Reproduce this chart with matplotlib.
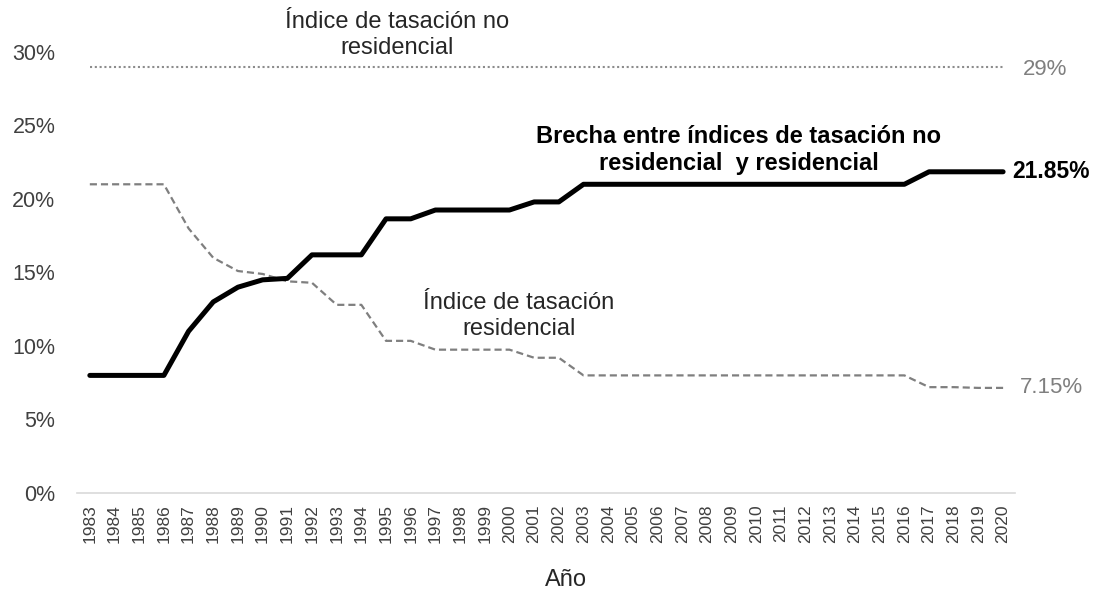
import matplotlib.pyplot as plt
from matplotlib.ticker import FuncFormatter

# datos
anios = list(range(1983, 2021))
brecha = [8, 8, 8, 8, 11, 13, 14, 14.5, 14.6, 16.2, 16.2, 16.2, 18.65, 18.65,
          19.25, 19.25, 19.25, 19.25, 19.8, 19.8] + [21] * 14 + [21.85] * 4
residencial = [21, 21, 21, 21, 18, 16, 15.1, 14.9, 14.4, 14.3, 12.8, 12.8, 10.35, 10.35,
               9.75, 9.75, 9.75, 9.75, 9.2, 9.2] + [8] * 14 + [7.2, 7.2, 7.15, 7.15]
no_residencial = [29] * len(anios)

plt.rcParams['font.family'] = ['Liberation Sans', 'DejaVu Sans']

fig = plt.figure(figsize=(10.96, 5.90), dpi=100)
ax = fig.add_axes([0.0707, 0.1644, 0.8558, 0.7475])

x = list(range(len(anios)))
ax.plot(x, no_residencial, color='#8c8c8c', linewidth=1.5, linestyle=(0, (1, 1.3)))
ax.plot(x, residencial, color='#7f7f7f', linewidth=1.6, linestyle=(0, (3.2, 1.8)))
ax.plot(x, brecha, color='black', linewidth=3.6, solid_joinstyle='round',
        solid_capstyle='round')

ax.set_xlim(-0.5, len(anios) - 0.5)
ax.set_ylim(0, 30)
ax.set_xticks(x)
ax.set_xticklabels([str(a) for a in anios], rotation=90, fontsize=12.5, color='#404040')
ax.set_yticks([0, 5, 10, 15, 20, 25, 30])
ax.yaxis.set_major_formatter(FuncFormatter(lambda v, p: f"{v:.0f}%"))
ax.tick_params(axis='y', length=0, labelsize=15.5, labelcolor='#404040', pad=16)
ax.tick_params(axis='x', length=0, pad=8)

for s in ['top', 'right', 'left']:
    ax.spines[s].set_visible(False)
ax.spines['bottom'].set_color('#d9d9d9')
ax.spines['bottom'].set_linewidth(1.2)

fig.text(566 / 1096, 0.006, 'Año', ha='center', va='baseline', fontsize=17, color='#262626')

# etiquetas al final de las series
ax.annotate('29%', xy=(x[-1], no_residencial[-1]), xytext=(14, -2), textcoords='offset points',
            va='center', fontsize=16, color='#7f7f7f', annotation_clip=False)
ax.annotate('21.85%', xy=(x[-1], brecha[-1]), xytext=(6.5, 0), textcoords='offset points',
            va='center', fontsize=16.5, fontweight='bold', color='black', annotation_clip=False)
ax.annotate('7.15%', xy=(x[-1], residencial[-1]), xytext=(12, 0), textcoords='offset points',
            va='center', fontsize=16, color='#7f7f7f', annotation_clip=False)

# rótulos de las series
ax.text(12.45, 32.8, 'Índice de tasación no\nresidencial', ha='center', va='top',
        fontsize=17, color='#262626', linespacing=1.24)
ax.text(26.3, 25.03, 'Brecha entre índices de tasación no\nresidencial  y residencial', ha='center',
        va='top', fontsize=17, fontweight='bold', color='black', linespacing=1.22)
ax.text(17.37, 13.7, 'Índice de tasación\nresidencial', ha='center', va='top',
        fontsize=17, color='#262626', linespacing=1.24)

plt.savefig('out.png', dpi=100)
